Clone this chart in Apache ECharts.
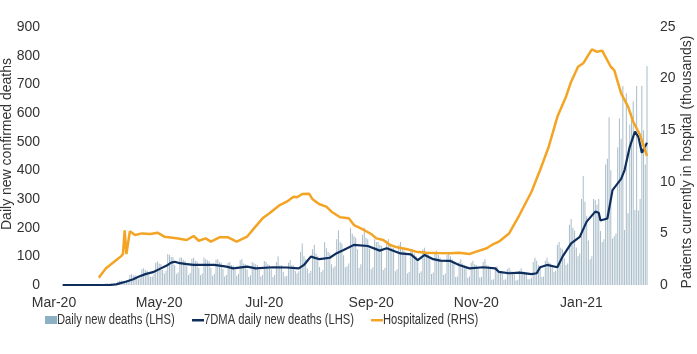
<!DOCTYPE html>
<html><head><meta charset="utf-8">
<script src="https://cdn.jsdelivr.net/npm/echarts@6/dist/echarts.min.js"></script>
<style>html,body{margin:0;padding:0;background:#fff}#c{width:697px;height:354px}</style>
</head><body><div id="c"></div>
<script>
// ---- data ----
const startDate = '2020-03-01';
const dayCount = 345; // 2020-03-01 .. 2021-02-08
const tickDates = ['2020-03-01','2020-05-01','2020-07-01','2020-09-01','2020-11-01','2021-01-01'];
const tickLabels = ['Mar-20','May-20','Jul-20','Sep-20','Nov-20','Jan-21'];
const seriesNames = ['Daily new deaths (LHS)', '7DMA daily new deaths (LHS)', 'Hospitalized (RHS)'];

const dailyDeaths = [
0,0,0,0,0,0,0, 0,0,0,0,0,0,0, 0,0,1,2,1,1,2, 1,2,3,2,4,3,2, 2,3,5,6,4,5,3,
4,6,12,15,16,14,10, 12,15,35,38,33,34,22, 20,25,55,58,52,50,34, 28,
30,38,78,82,75,72,52, 40,50,108,105,98,97,69, 38,44,95,96,88,85,65,
35,42,92,95,85,82,59, 34,40,96,90,86,84,60, 32,38,88,90,80,78,56,
30,35,78,80,70,68,52, 32,38,86,90,75,72,55, 28,34,80,76,72,70,53,
30,36,84,80,72,70,55, 28,35,80,100,68,70,46, 30,32,78,86,70,68,49,
40,48,115,145,100,90,57, 42,50,125,140,110,100,63, 45,52,150,128,115,110,72,
60,66,160,190,150,145,104, 62,
65,75,200,180,170,165,125, 60,72,175,200,165,160,127, 55,62,160,150,150,140,137,
52,60,155,160,140,130,129, 48,55,140,150,130,120,113, 40,45,120,125,110,100,90,
42,48,125,130,115,110,95, 38,44,110,120,105,95,83, 35,40,105,110,100,90,80,
28,30,80,90,75,70,61, 25,30,78,85,72,70,60, 26,28,80,90,70,66,60,
18,20,60,65,50,48,47, 18,20,55,60,50,46,45, 16,18,50,58,48,45,45, 20,
20,25,80,95,85,70,59, 28,30,85,95,80,75,62, 45,50,140,150,130,125,95,
70,75,210,230,200,190,131, 100,110,300,380,290,240,155, 90,100,300,296,280,300,188,
150,160,420,440,585,400,162, 170,180,480,581,510,694,192, 669,250,560,600,640,262,694,
260,300,694,540,420,764
];

// [day index, value]
const ma7Points = [
[5,0],[32,0],[36,2],[42,12],[46,20],[49,29],[53,38],[58,46],[62,58],[66,70],[68,78],[70,81],
[73,76],[77,73],[81,70],[93,70],[100,64],[104,58],[112,64],[117,58],[127,62],[135,61],[142,58],
[145,70],[149,99],[154,90],[160,95],[164,111],[168,122],[174,140],[182,136],[189,120],[193,128],
[201,110],[207,107],[211,87],[215,105],[220,90],[224,85],[230,84],[235,70],[241,58],[249,62],
[256,58],[258,46],[264,41],[270,43],[277,38],[280,41],[282,62],[286,70],[292,62],[295,99],
[300,145],[305,168],[309,221],[314,256],[316,252],[317,225],[321,232],[324,331],[329,370],
[331,401],[334,482],[337,535],[339,517],[341,461],[344,496]
];

// [day index, thousands]
const hospPoints = [
[26,0.7],[30,1.6],[36,2.4],[39,2.8],[40,3.0],[41,5.3],[42,3.0],[44,5.2],[47,4.85],[51,5.0],
[56,4.94],[60,5.07],[64,4.68],[71,4.52],[77,4.36],[81,4.75],[84,4.29],[88,4.52],[91,4.2],
[96,4.62],[101,4.62],[106,4.2],[112,4.68],[116,5.49],[121,6.46],[125,6.95],[131,7.75],
[135,8.07],[139,8.56],[141,8.5],[144,8.82],[148,8.85],[150,8.3],[154,7.82],[158,7.59],
[161,7.1],[166,6.56],[171,6.46],[174,5.81],[178,5.49],[184,4.94],[187,4.52],[191,4.36],
[195,3.88],[199,3.65],[205,3.46],[210,3.23],[216,3.13],[222,3.1],[230,3.07],[235,3.13],
[241,3.0],[245,3.23],[251,3.56],[254,3.88],[258,4.2],[264,5.0],[270,6.78],[277,9.04],
[282,11.14],[287,13.4],[292,16.3],[297,18.25],[300,19.7],[301,19.8],[304,21.15],[307,21.48],
[308,21.32],[312,22.84],[315,22.6],[318,22.71],[323,21.15],[325,20.83],[329,18.57],
[333,17.28],[336,15.82],[340,14.53],[344,12.5]
];

// ---- categories ----
const categories = [];
(function(){
  const d0 = new Date(startDate + 'T00:00:00Z');
  for (let k = 0; k < dayCount; k++) {
    const d = new Date(d0.getTime() + k * 86400000);
    categories.push(d.toISOString().slice(0, 10));
  }
})();

const FONT = '"Liberation Sans", Arial, sans-serif';
const TXT = '#333333';
const BAR_C = '#a8bcc9', BAR_ICON = '#8db0c4', NAVY = '#0e2f5e', ORANGE = '#f4a425';

function legendItem(x, iconY, iconH, color, label) {
  return {
    type: 'group', left: x, top: 313,
    children: [
      {type: 'rect', shape: {x: 0, y: iconY, width: 12, height: iconH}, style: {fill: color}},
      {type: 'text', x: 12, y: 9, scaleX: 0.8,
       style: {text: label, font: '14px ' + FONT, fill: TXT, verticalAlign: 'middle', align: 'left'}}
    ]
  };
}

const chart = echarts.init(document.getElementById('c'), null, {renderer: 'canvas'});
chart.setOption({
  animation: false,
  backgroundColor: '#ffffff',
  grid: {left: 54, right: 50, top: 27, bottom: 69, containLabel: false, outerBoundsMode: 'none'},
  graphic: [
    legendItem(45, 5, 8, BAR_ICON, seriesNames[0]),
    legendItem(192, 8, 2.5, NAVY, seriesNames[1]),
    legendItem(371, 8, 2.5, ORANGE, seriesNames[2])
  ],
  xAxis: {
    type: 'category',
    data: categories,
    boundaryGap: false,
    axisLine: {show: false},
    axisTick: {show: false},
    splitLine: {show: false},
    axisLabel: {
      interval: function (idx, val) { return tickDates.indexOf(val) >= 0; },
      formatter: function (val) { const k = tickDates.indexOf(val); return k >= 0 ? tickLabels[k] : ''; },
      fontFamily: FONT, fontSize: 14, color: TXT, margin: 11
    }
  },
  yAxis: [
    {type: 'value', min: 0, max: 900, interval: 100, position: 'left',
     name: 'Daily new confirmed deaths', nameLocation: 'middle', nameGap: 40, nameRotate: 90,
     nameMoveOverlap: false,
     nameTextStyle: {fontFamily: FONT, fontSize: 14, color: TXT, padding: [0, 0, 0, 24]},
     axisLine: {show: false}, axisTick: {show: false}, splitLine: {show: false},
     axisLabel: {fontFamily: FONT, fontSize: 14, color: TXT, margin: 14}},
    {type: 'value', min: 0, max: 25, interval: 5, position: 'right',
     name: 'Patients currently in hospital (thousands)', nameLocation: 'middle', nameGap: 33, nameRotate: 90,
     nameMoveOverlap: false,
     nameTextStyle: {fontFamily: FONT, fontSize: 14, color: TXT, padding: [0, 12, 0, 0]},
     axisLine: {show: false}, axisTick: {show: false}, splitLine: {show: false},
     axisLabel: {fontFamily: FONT, fontSize: 14, color: TXT, margin: 13}}
  ],
  series: [
    {name: seriesNames[0], type: 'bar', data: dailyDeaths, barWidth: 1,
     itemStyle: {color: BAR_C}, yAxisIndex: 0},
    {name: seriesNames[1], type: 'line', data: ma7Points, yAxisIndex: 0,
     showSymbol: false, symbol: 'none', itemStyle: {color: NAVY},
     lineStyle: {color: NAVY, width: 2.2}},
    {name: seriesNames[2], type: 'line', data: hospPoints, yAxisIndex: 1,
     showSymbol: false, symbol: 'none', itemStyle: {color: ORANGE},
     lineStyle: {color: ORANGE, width: 2.5}}
  ]
});
</script>
</body></html>
